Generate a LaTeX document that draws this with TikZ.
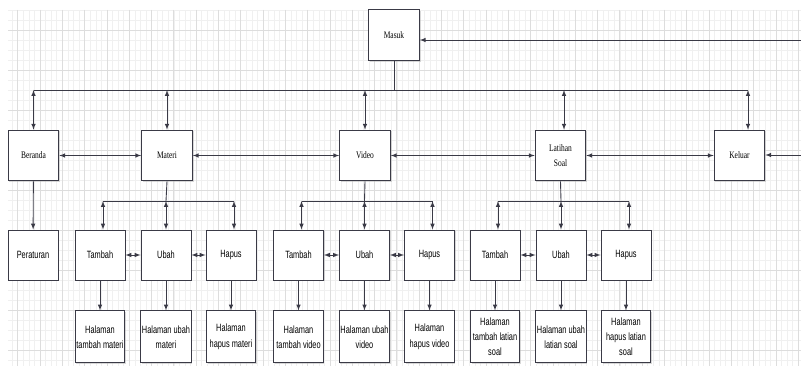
\documentclass[tikz,border=0pt]{standalone}
\usepackage{fontspec}
\setmainfont{Liberation Serif}
\newfontfamily\boxsans[FakeStretch=0.7]{Liberation Sans}
\newfontfamily\boxserif[FakeStretch=0.75]{Liberation Serif}
\usetikzlibrary{arrows, positioning, calc, shadows}
\definecolor{linegray}{HTML}{3A3A46}
\definecolor{gridmajor}{HTML}{DDDDDD}
\definecolor{gridminor}{HTML}{F0F0F0}
\tikzset{
  menubox/.style={rectangle,draw=linegray,line width=0.75pt,fill=white,minimum width=1.52cm,minimum height=1.52cm,inner sep=1pt,align=center,font=\boxserif\fontsize{8.5}{12.5}\selectfont,drop shadow={shadow xshift=1pt,shadow yshift=-1pt,fill=black!30}},
  pagebox/.style={menubox,minimum width=1.5cm,minimum height=1.5cm,font=\boxsans\fontsize{9}{13}\selectfont},
  halbox/.style={pagebox,minimum width=1.48cm,minimum height=1.56cm},
  link/.style={linegray,line width=0.75pt},
  linkto/.style={link,-latex},
  linkboth/.style={link,latex-latex},
  gridmin/.style={gridminor,line width=0.4pt},
  gridmaj/.style={gridmajor,line width=0.6pt},
}

\begin{document}
\begin{tikzpicture}[x=0.03cm,y=-0.03cm]
	    \useasboundingbox (0,0) rectangle (801,366);
	    % grid
	    \foreach \k in {-5,...,136} \draw[gridmin] ({40+5.575*\k},10) -- ({40+5.575*\k},366);
	    \foreach \k in {-2,...,33} \draw[gridmin] (8,{30+10*\k}) -- (801,{30+10*\k});
	    \foreach \k in {-1,...,34} \draw[gridmaj] ({40+22.3*\k},10) -- ({40+22.3*\k},366);
	    \foreach \k in {0,...,8} \draw[gridmaj] (8,{30+40*\k}) -- (801,{30+40*\k});

	    % menu utama
	    \node[menubox] (masuk) at (394,35) {Masuk};
	    \node[menubox] (beranda) at (33.5,155.5) {Beranda};
	    \node[menubox] (materi) at (167,155.5) {Materi};
	    \node[menubox] (video) at (365,155.5) {Video};
	    \node[menubox] (latihan) at (560.5,155.5) {Latihan\\Soal};
	    \node[menubox] (keluar) at (739.5,155.5) {Keluar};

	    % halaman
	    \node[pagebox] (peraturan) at (33,255) {Peraturan};
	    \node[pagebox] (mtambah) at (100,255) {Tambah};
	    \node[pagebox] (mubah) at (166,255) {Ubah};
	    \node[pagebox] (mhapus) at (231,255) {Hapus};
	    \node[pagebox] (vtambah) at (298.5,255) {Tambah};
	    \node[pagebox] (vubah) at (364.5,255) {Ubah};
	    \node[pagebox] (vhapus) at (429.5,255) {Hapus};
	    \node[pagebox] (ltambah) at (495,255) {Tambah};
	    \node[pagebox] (lubah) at (561,255) {Ubah};
	    \node[pagebox] (lhapus) at (626,255) {Hapus};

	    \node[halbox,below=0.9cm of mtambah] (hmtambah) {Halaman\\tambah materi};
	    \node[halbox,below=0.9cm of mubah] (hmubah) {Halaman ubah\\materi};
	    \node[halbox,below=0.9cm of mhapus] (hmhapus) {Halaman\\hapus materi};
	    \node[halbox,below=0.9cm of vtambah] (hvtambah) {Halaman\\tambah video};
	    \node[halbox,below=0.9cm of vubah] (hvubah) {Halaman ubah\\video};
	    \node[halbox,below=0.9cm of vhapus] (hvhapus) {Halaman\\hapus video};
	    \node[halbox,below=0.9cm of ltambah] (hltambah) {Halaman\\tambah latian\\soal};
	    \node[halbox,below=0.9cm of lubah] (hlubah) {Halaman ubah\\latian soal};
	    \node[halbox,below=0.9cm of lhapus] (hlhapus) {Halaman\\hapus latian\\soal};

	    % jalur utama
	    \coordinate (bus) at (0,90);
	    \coordinate (kin) at (801,40);
	    \coordinate (kout) at (801,155);
	    \draw[link] (beranda.north |- bus) -- ($(keluar.north |- bus)+(8.5,0)$);
	    \draw[link] (masuk) -- (masuk |- bus);
	    \draw[linkto] (kin) -- (kin -| masuk.east);
	    \foreach \m in {beranda,materi,video}
	      \draw[linkboth] (\m.north |- bus) -- (\m.north);
	    \draw[linkboth] ($(latihan.north |- bus)+(3.5,0)$) -- ($(latihan.north)+(3.5,0)$);
	    \draw[linkboth] ($(keluar.north |- bus)+(8.5,0)$) -- ($(keluar.north)+(8.5,0)$);
	    \draw[linkboth] (beranda) -- (materi);
	    \draw[linkboth] (materi) -- (video);
	    \draw[linkboth] (video) -- (latihan);
	    \draw[linkboth] (latihan) -- (keluar);
	    \draw[linkto] (kout) -- (kout -| keluar.east);
	    \draw[linkto] (beranda) -- (peraturan);

	    % jalur sub menu
	    \coordinate (subbus) at (0,201);
	    \foreach \m/\t/\u/\h in {materi/mtambah/mubah/mhapus,video/vtambah/vubah/vhapus,latihan/ltambah/lubah/lhapus} {
	      \draw[link] ($(\t.north |- subbus)+(3,0)$) -- ($(\h.north |- subbus)+(3,0)$);
	      \draw[link] (\m.south) -- (\u.north |- subbus);
	      \draw[linkboth] ($(\t.north |- subbus)+(3,0)$) -- ($(\t.north)+(3,0)$);
	      \draw[linkboth] (\u.north |- subbus) -- (\u.north);
	      \draw[linkboth] ($(\h.north |- subbus)+(3,0)$) -- ($(\h.north)+(3,0)$);
	      \draw[linkboth] (\t) -- (\u);
	      \draw[linkboth] (\u) -- (\h);
	    }
	    \foreach \p in {mtambah,mubah,mhapus,vtambah,vubah,vhapus,ltambah,lubah,lhapus}
	      \draw[linkto] (\p) -- (h\p);
	\end{tikzpicture}
\end{document}
